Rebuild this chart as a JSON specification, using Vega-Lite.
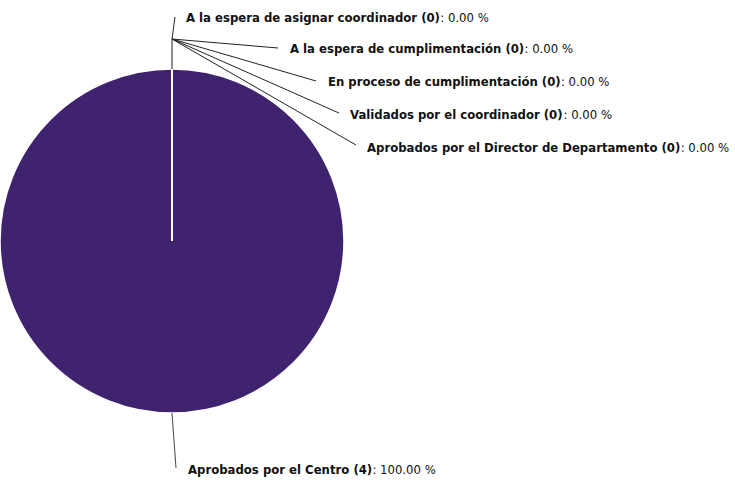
{
  "$schema": "https://vega.github.io/schema/vega-lite/v6.json",
  "width": 344,
  "height": 482,
  "autosize": {"type": "none"},
  "padding": {"left": 0, "right": 391, "top": 0, "bottom": 0},
  "background": "#ffffff",
  "config": {"view": {"stroke": null}, "text": {"font": "DejaVu Sans"}},
  "data": {
    "values": [
      {"estado": "Aprobados por el Centro", "n": 4, "pct": 100, "orden": 6, "etiqueta": "Aprobados por el Centro (4)", "valor": ": 100.00 %"},
      {"estado": "A la espera de asignar coordinador", "n": 0, "pct": 0, "orden": 1, "etiqueta": "A la espera de asignar coordinador (0)", "valor": ": 0.00 %"},
      {"estado": "A la espera de cumplimentación", "n": 0, "pct": 0, "orden": 2, "etiqueta": "A la espera de cumplimentación (0)", "valor": ": 0.00 %"},
      {"estado": "En proceso de cumplimentación", "n": 0, "pct": 0, "orden": 3, "etiqueta": "En proceso de cumplimentación (0)", "valor": ": 0.00 %"},
      {"estado": "Validados por el coordinador", "n": 0, "pct": 0, "orden": 4, "etiqueta": "Validados por el coordinador (0)", "valor": ": 0.00 %"},
      {"estado": "Aprobados por el Director de Departamento", "n": 0, "pct": 0, "orden": 5, "etiqueta": "Aprobados por el Director de Departamento (0)", "valor": ": 0.00 %"}
    ]
  },
  "layer": [
    {
      "mark": {"type": "arc", "radius": 172, "fill": "#40236f", "stroke": "#ffffff", "strokeWidth": 1.5},
      "encoding": {
        "theta": {"field": "n", "type": "quantitative", "stack": true}
      }
    },
    {
      "transform": [{"filter": {"field": "n", "equal": 0}}],
      "mark": {"type": "rule", "color": "#8a8a8a", "strokeWidth": 1},
      "encoding": {
        "x": {"field": "orden", "type": "quantitative", "scale": {"domain": [1, 5], "range": [172, 172], "nice": false, "zero": false}, "axis": null},
        "y": {"field": "orden", "type": "quantitative", "scale": {"domain": [0, 1, 5], "range": [39, 69, 69], "nice": false, "zero": false}, "axis": null},
        "y2": {"datum": 0}
      }
    },
    {
      "transform": [{"filter": {"field": "n", "equal": 0}}],
      "mark": {"type": "rule", "color": "#222222", "strokeWidth": 1},
      "encoding": {
        "x": {"field": "orden", "type": "quantitative", "scale": {"domain": [0, 1, 2, 3, 4, 5], "range": [172, 175, 278, 316, 339, 356], "nice": false, "zero": false}, "axis": null},
        "y": {"field": "orden", "type": "quantitative", "scale": {"domain": [0, 1, 2, 3, 4, 5], "range": [39, 17, 48, 81, 113, 145], "nice": false, "zero": false}, "axis": null},
        "x2": {"datum": 0},
        "y2": {"datum": 0}
      }
    },
    {
      "transform": [{"filter": {"field": "n", "gt": 0}}],
      "mark": {"type": "rule", "color": "#444444", "strokeWidth": 1},
      "encoding": {
        "x": {"field": "orden", "type": "quantitative", "scale": {"domain": [0, 6], "range": [172, 176], "nice": false, "zero": false}, "axis": null},
        "y": {"field": "orden", "type": "quantitative", "scale": {"domain": [0, 6], "range": [413, 468], "nice": false, "zero": false}, "axis": null},
        "x2": {"datum": 0},
        "y2": {"datum": 0}
      }
    },
    {
      "mark": {"type": "text", "align": "left", "baseline": "middle", "fontSize": 11.7, "fontWeight": "bold", "color": "#111111"},
      "encoding": {
        "x": {"field": "orden", "type": "quantitative", "scale": {"domain": [1, 2, 3, 4, 5, 6], "range": [186, 290, 328, 350, 367, 188], "nice": false, "zero": false}, "axis": null},
        "y": {"field": "orden", "type": "quantitative", "scale": {"domain": [1, 2, 3, 4, 5, 6], "range": [18, 49, 82, 115, 148, 470], "nice": false, "zero": false}, "axis": null},
        "text": {"field": "etiqueta"}
      }
    },
    {
      "mark": {"type": "text", "align": "left", "baseline": "middle", "fontSize": 11.7, "fontWeight": "normal", "color": "#111111"},
      "encoding": {
        "x": {"field": "orden", "type": "quantitative", "scale": {"domain": [1, 2, 3, 4, 5, 6], "range": [440.3, 524.5, 560.9, 563.5, 680.7, 372.4], "nice": false, "zero": false}, "axis": null},
        "y": {"field": "orden", "type": "quantitative", "scale": {"domain": [1, 2, 3, 4, 5, 6], "range": [18, 49, 82, 115, 148, 470], "nice": false, "zero": false}, "axis": null},
        "text": {"field": "valor"}
      }
    }
  ],
  "resolve": {"scale": {"x": "independent", "y": "independent"}}
}
